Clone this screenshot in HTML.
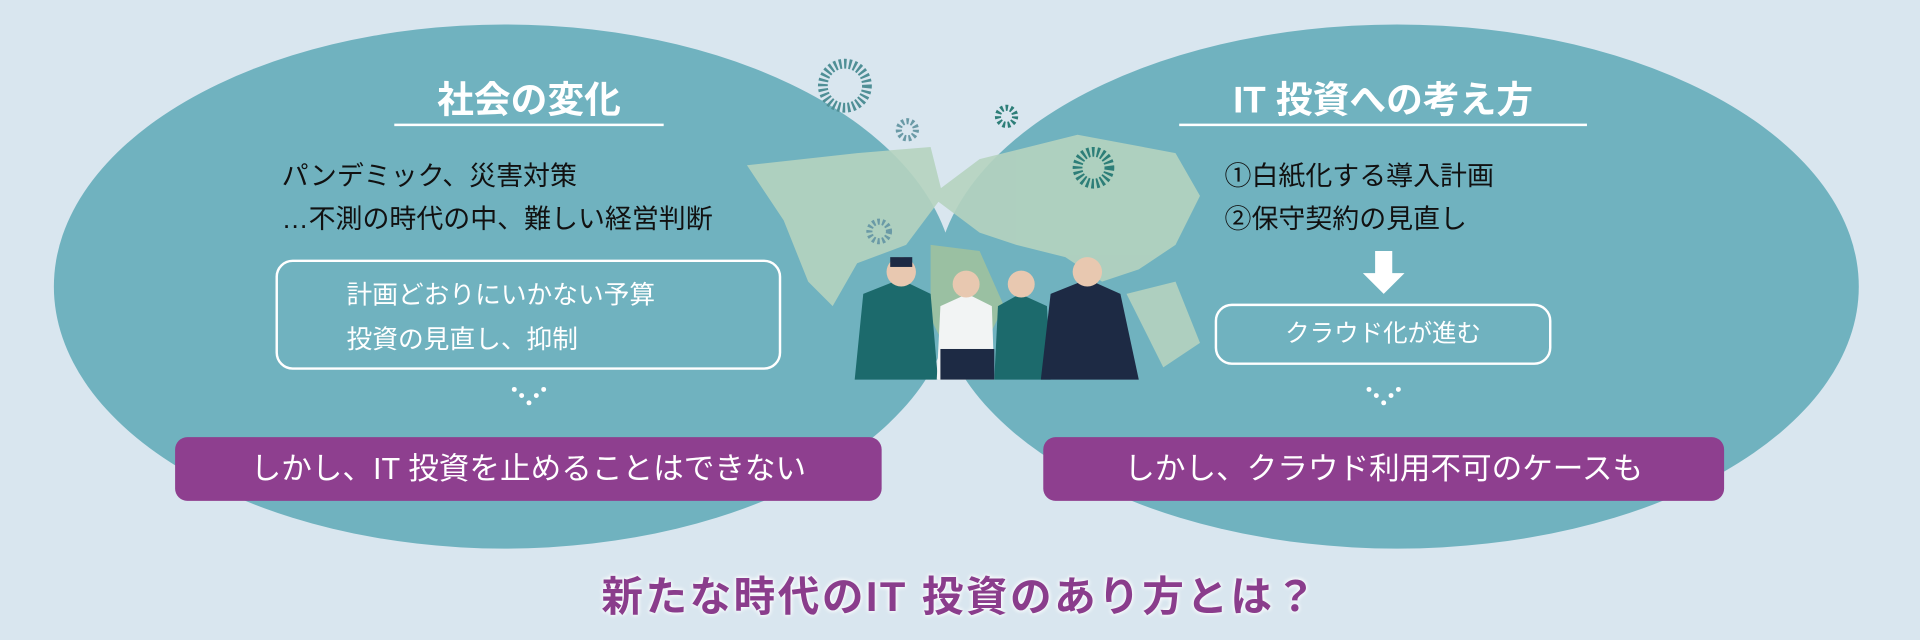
<!DOCTYPE html>
<html><head><meta charset="utf-8"><style>
html,body{margin:0;padding:0;}
body{width:1920px;height:640px;overflow:hidden;background:#d9e6ef;font-family:"Liberation Sans","Noto Sans CJK JP",sans-serif;}
#s{position:absolute;left:0;top:0;width:1568px;height:523px;transform:scale(1.2245);transform-origin:0 0;}
.a{position:absolute;white-space:nowrap;}
.t{color:#fff;font-weight:bold;font-size:30px;text-align:center;}
.k{color:#111;font-size:22px;line-height:35px;}
.box{position:absolute;border:2px solid #fff;border-radius:14px;box-sizing:border-box;}
.p{position:absolute;background:#8e3f8f;border-radius:10px;color:#fff;font-size:25px;text-align:center;line-height:52px;}
</style></head><body><div id="s">
<svg width="1568" height="523" style="position:absolute;left:0;top:0">
<ellipse cx="412" cy="234" rx="368" ry="214" fill="#70b2bf"/>
<ellipse cx="1141" cy="234" rx="377" ry="214" fill="#70b2bf"/>
<g fill="#b5d3bf" opacity="0.9">
<path d="M610 135 L700 125 L760 120 L770 160 L740 200 L700 215 L680 250 L660 230 L640 180 Z"/>
<path d="M760 160 L800 130 L880 110 L960 125 L980 160 L960 200 L930 220 L900 230 L870 210 L830 200 L800 190 Z"/>
<path d="M760 200 L800 205 L820 250 L800 290 L780 300 L760 260 Z" fill="#9fc29f"/>
<path d="M920 240 L960 230 L980 280 L950 300 Z"/>
</g>
<g fill="none" stroke-dasharray="2 2">
<circle cx="690" cy="70" r="18" stroke="#4f8f96" stroke-width="8"/>
<circle cx="893" cy="137" r="13" stroke="#2d7e78" stroke-width="8"/>
<circle cx="822" cy="95" r="7" stroke="#2d7e78" stroke-width="5"/>
<circle cx="741" cy="106" r="7" stroke="#6a9aa6" stroke-width="5"/>
<circle cx="718" cy="189" r="8" stroke="#6a9aa6" stroke-width="5"/></g>
<g>
<path d="M698 310 L705 240 L735 228 L760 240 L766 310 Z" fill="#1c6a6c"/>
<circle cx="736" cy="222" r="12" fill="#e8c8b0"/><rect x="727" y="210" width="18" height="8" fill="#1d2a44"/>
<path d="M765 310 L768 250 L790 240 L810 250 L812 310 Z" fill="#f2f4f4"/>
<rect x="768" y="285" width="44" height="25" fill="#1d2a44"/>
<circle cx="789" cy="232" r="11" fill="#e8c8b0"/>
<path d="M812 310 L815 250 L833 240 L855 250 L858 310 Z" fill="#1c6a6c"/>
<circle cx="834" cy="232" r="11" fill="#e8c8b0"/>
<path d="M850 310 L858 240 L888 228 L915 240 L930 310 Z" fill="#1d2a44"/>
<circle cx="888" cy="222" r="12" fill="#e8c8b0"/>
</g>
<line x1="322" y1="102" x2="542" y2="102" stroke="#fff" stroke-width="2"/>
<line x1="963" y1="102" x2="1296" y2="102" stroke="#fff" stroke-width="2"/>
<path d="M1123 205 h14 v18 h10 l-17 17 l-17 -17 h10 z" fill="#fff"/>
<g fill="#fff"><circle cx="420" cy="318" r="2"/><circle cx="426" cy="323" r="2"/><circle cx="432" cy="329" r="2"/><circle cx="438" cy="323" r="2"/><circle cx="444" cy="318" r="2"/>
<circle cx="1118" cy="318" r="2"/><circle cx="1124" cy="323" r="2"/><circle cx="1130" cy="329" r="2"/><circle cx="1136" cy="323" r="2"/><circle cx="1142" cy="318" r="2"/></g>
</svg>
<div class="a t" style="left:322px;width:220px;top:57px;">社会の変化</div>
<div class="a t" style="left:963px;width:333px;top:57px;">IT 投資への考え方</div>
<div class="a k" style="left:230px;top:126px;">パンデミック、災害対策<br>…不測の時代の中、難しい経営判断</div>
<div class="box" style="left:225px;top:212px;width:413px;height:90px;"></div>
<div class="a" style="left:283px;top:224px;color:#fff;font-size:21px;line-height:36px;">計画どおりにいかない予算<br>投資の見直し、抑制</div>
<div class="a k" style="left:1000px;top:126px;">①白紙化する導入計画<br>②保守契約の見直し</div>
<div class="box" style="left:992px;top:248px;width:275px;height:50px;color:#fff;font-size:20px;text-align:center;line-height:46px;">クラウド化が進む</div>
<div class="p" style="left:143px;top:357px;width:577px;height:52px;">しかし、IT 投資を止めることはできない</div>
<div class="p" style="left:852px;top:357px;width:556px;height:52px;">しかし、クラウド利用不可のケースも</div>
<div class="a" style="left:0;width:1568px;top:460px;text-align:center;color:#8a3d8c;font-size:34px;font-weight:bold;letter-spacing:2px;text-shadow:0 0 4px #fff,0 0 4px #fff;">新たな時代のIT 投資のあり方とは？</div>
</div></body></html>
